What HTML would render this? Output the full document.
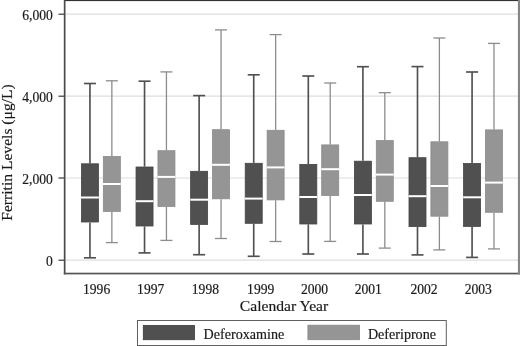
<!DOCTYPE html>
<html><head><meta charset="utf-8"><style>
html,body{margin:0;padding:0;background:#fff;}
body{width:520px;height:346px;overflow:hidden;}
svg{display:block;will-change:transform;}
.t,.ti,.tl{stroke:#1a1a1a;stroke-width:0.18px;}
.t{font-family:"Liberation Serif",serif;font-size:13.6px;fill:#1a1a1a;}
.ti{font-family:"Liberation Serif",serif;font-size:15.6px;fill:#1a1a1a;}
.tl{font-family:"Liberation Serif",serif;font-size:14.1px;fill:#1a1a1a;}
</style></head><body>
<svg width="520" height="346" viewBox="0 0 520 346">
<rect width="520" height="346" fill="#fff"/>
<line x1="65" y1="14.2" x2="518" y2="14.2" stroke="#dedede" stroke-width="1.2"/>
<line x1="58.5" y1="14.2" x2="64.5" y2="14.2" stroke="#3a3a3a" stroke-width="1.2"/>
<line x1="65" y1="96.2" x2="518" y2="96.2" stroke="#dedede" stroke-width="1.2"/>
<line x1="58.5" y1="96.2" x2="64.5" y2="96.2" stroke="#3a3a3a" stroke-width="1.2"/>
<line x1="65" y1="178.0" x2="518" y2="178.0" stroke="#dedede" stroke-width="1.2"/>
<line x1="58.5" y1="178.0" x2="64.5" y2="178.0" stroke="#3a3a3a" stroke-width="1.2"/>
<line x1="65" y1="260.2" x2="518" y2="260.2" stroke="#dedede" stroke-width="1.2"/>
<line x1="58.5" y1="260.2" x2="64.5" y2="260.2" stroke="#3a3a3a" stroke-width="1.2"/>
<line x1="89.95" y1="83.50" x2="89.95" y2="163.40" stroke="#505050" stroke-width="1.65"/>
<line x1="89.95" y1="222.40" x2="89.95" y2="257.80" stroke="#505050" stroke-width="1.65"/>
<line x1="83.95" y1="83.50" x2="95.95" y2="83.50" stroke="#505050" stroke-width="1.65"/>
<line x1="83.95" y1="257.80" x2="95.95" y2="257.80" stroke="#505050" stroke-width="1.65"/>
<rect x="81.45" y="163.80" width="17.00" height="58.20" fill="#505050" stroke="#444444" stroke-width="0.8"/>
<line x1="81.05" y1="197.50" x2="98.85" y2="197.50" stroke="#ffffff" stroke-width="2"/>
<line x1="111.85" y1="80.80" x2="111.85" y2="156.10" stroke="#8c8c8c" stroke-width="1.3"/>
<line x1="111.85" y1="211.80" x2="111.85" y2="242.60" stroke="#8c8c8c" stroke-width="1.3"/>
<line x1="105.85" y1="80.80" x2="117.85" y2="80.80" stroke="#8c8c8c" stroke-width="1.3"/>
<line x1="105.85" y1="242.60" x2="117.85" y2="242.60" stroke="#8c8c8c" stroke-width="1.3"/>
<rect x="103.35" y="156.50" width="17.00" height="54.90" fill="#959595" stroke="#8a8a8a" stroke-width="0.8"/>
<line x1="102.95" y1="184.00" x2="120.75" y2="184.00" stroke="#ffffff" stroke-width="2"/>
<line x1="144.54" y1="81.20" x2="144.54" y2="166.60" stroke="#505050" stroke-width="1.65"/>
<line x1="144.54" y1="226.40" x2="144.54" y2="252.90" stroke="#505050" stroke-width="1.65"/>
<line x1="138.54" y1="81.20" x2="150.54" y2="81.20" stroke="#505050" stroke-width="1.65"/>
<line x1="138.54" y1="252.90" x2="150.54" y2="252.90" stroke="#505050" stroke-width="1.65"/>
<rect x="136.04" y="167.00" width="17.00" height="59.00" fill="#505050" stroke="#444444" stroke-width="0.8"/>
<line x1="135.64" y1="201.20" x2="153.44" y2="201.20" stroke="#ffffff" stroke-width="2"/>
<line x1="166.44" y1="71.90" x2="166.44" y2="150.30" stroke="#8c8c8c" stroke-width="1.3"/>
<line x1="166.44" y1="206.80" x2="166.44" y2="240.40" stroke="#8c8c8c" stroke-width="1.3"/>
<line x1="160.44" y1="71.90" x2="172.44" y2="71.90" stroke="#8c8c8c" stroke-width="1.3"/>
<line x1="160.44" y1="240.40" x2="172.44" y2="240.40" stroke="#8c8c8c" stroke-width="1.3"/>
<rect x="157.94" y="150.70" width="17.00" height="55.70" fill="#959595" stroke="#8a8a8a" stroke-width="0.8"/>
<line x1="157.54" y1="176.90" x2="175.34" y2="176.90" stroke="#ffffff" stroke-width="2"/>
<line x1="199.13" y1="95.60" x2="199.13" y2="170.90" stroke="#505050" stroke-width="1.65"/>
<line x1="199.13" y1="224.80" x2="199.13" y2="254.70" stroke="#505050" stroke-width="1.65"/>
<line x1="193.13" y1="95.60" x2="205.13" y2="95.60" stroke="#505050" stroke-width="1.65"/>
<line x1="193.13" y1="254.70" x2="205.13" y2="254.70" stroke="#505050" stroke-width="1.65"/>
<rect x="190.63" y="171.30" width="17.00" height="53.10" fill="#505050" stroke="#444444" stroke-width="0.8"/>
<line x1="190.23" y1="199.70" x2="208.03" y2="199.70" stroke="#ffffff" stroke-width="2"/>
<line x1="221.03" y1="29.90" x2="221.03" y2="129.30" stroke="#8c8c8c" stroke-width="1.3"/>
<line x1="221.03" y1="199.20" x2="221.03" y2="238.50" stroke="#8c8c8c" stroke-width="1.3"/>
<line x1="215.03" y1="29.90" x2="227.03" y2="29.90" stroke="#8c8c8c" stroke-width="1.3"/>
<line x1="215.03" y1="238.50" x2="227.03" y2="238.50" stroke="#8c8c8c" stroke-width="1.3"/>
<rect x="212.53" y="129.70" width="17.00" height="69.10" fill="#959595" stroke="#8a8a8a" stroke-width="0.8"/>
<line x1="212.13" y1="164.80" x2="229.93" y2="164.80" stroke="#ffffff" stroke-width="2"/>
<line x1="253.72" y1="74.80" x2="253.72" y2="162.90" stroke="#505050" stroke-width="1.65"/>
<line x1="253.72" y1="223.70" x2="253.72" y2="256.30" stroke="#505050" stroke-width="1.65"/>
<line x1="247.72" y1="74.80" x2="259.72" y2="74.80" stroke="#505050" stroke-width="1.65"/>
<line x1="247.72" y1="256.30" x2="259.72" y2="256.30" stroke="#505050" stroke-width="1.65"/>
<rect x="245.22" y="163.30" width="17.00" height="60.00" fill="#505050" stroke="#444444" stroke-width="0.8"/>
<line x1="244.82" y1="198.60" x2="262.62" y2="198.60" stroke="#ffffff" stroke-width="2"/>
<line x1="275.62" y1="34.60" x2="275.62" y2="129.90" stroke="#8c8c8c" stroke-width="1.3"/>
<line x1="275.62" y1="200.30" x2="275.62" y2="241.50" stroke="#8c8c8c" stroke-width="1.3"/>
<line x1="269.62" y1="34.60" x2="281.62" y2="34.60" stroke="#8c8c8c" stroke-width="1.3"/>
<line x1="269.62" y1="241.50" x2="281.62" y2="241.50" stroke="#8c8c8c" stroke-width="1.3"/>
<rect x="267.12" y="130.30" width="17.00" height="69.60" fill="#959595" stroke="#8a8a8a" stroke-width="0.8"/>
<line x1="266.72" y1="167.40" x2="284.52" y2="167.40" stroke="#ffffff" stroke-width="2"/>
<line x1="308.31" y1="76.00" x2="308.31" y2="164.00" stroke="#505050" stroke-width="1.65"/>
<line x1="308.31" y1="224.40" x2="308.31" y2="254.00" stroke="#505050" stroke-width="1.65"/>
<line x1="302.31" y1="76.00" x2="314.31" y2="76.00" stroke="#505050" stroke-width="1.65"/>
<line x1="302.31" y1="254.00" x2="314.31" y2="254.00" stroke="#505050" stroke-width="1.65"/>
<rect x="299.81" y="164.40" width="17.00" height="59.60" fill="#505050" stroke="#444444" stroke-width="0.8"/>
<line x1="299.41" y1="197.00" x2="317.21" y2="197.00" stroke="#ffffff" stroke-width="2"/>
<line x1="330.21" y1="83.00" x2="330.21" y2="144.50" stroke="#8c8c8c" stroke-width="1.3"/>
<line x1="330.21" y1="195.90" x2="330.21" y2="241.40" stroke="#8c8c8c" stroke-width="1.3"/>
<line x1="324.21" y1="83.00" x2="336.21" y2="83.00" stroke="#8c8c8c" stroke-width="1.3"/>
<line x1="324.21" y1="241.40" x2="336.21" y2="241.40" stroke="#8c8c8c" stroke-width="1.3"/>
<rect x="321.71" y="144.90" width="17.00" height="50.60" fill="#959595" stroke="#8a8a8a" stroke-width="0.8"/>
<line x1="321.31" y1="169.20" x2="339.11" y2="169.20" stroke="#ffffff" stroke-width="2"/>
<line x1="362.90" y1="66.70" x2="362.90" y2="160.80" stroke="#505050" stroke-width="1.65"/>
<line x1="362.90" y1="224.40" x2="362.90" y2="254.00" stroke="#505050" stroke-width="1.65"/>
<line x1="356.90" y1="66.70" x2="368.90" y2="66.70" stroke="#505050" stroke-width="1.65"/>
<line x1="356.90" y1="254.00" x2="368.90" y2="254.00" stroke="#505050" stroke-width="1.65"/>
<rect x="354.40" y="161.20" width="17.00" height="62.80" fill="#505050" stroke="#444444" stroke-width="0.8"/>
<line x1="354.00" y1="195.00" x2="371.80" y2="195.00" stroke="#ffffff" stroke-width="2"/>
<line x1="384.80" y1="92.70" x2="384.80" y2="140.20" stroke="#8c8c8c" stroke-width="1.3"/>
<line x1="384.80" y1="201.70" x2="384.80" y2="248.10" stroke="#8c8c8c" stroke-width="1.3"/>
<line x1="378.80" y1="92.70" x2="390.80" y2="92.70" stroke="#8c8c8c" stroke-width="1.3"/>
<line x1="378.80" y1="248.10" x2="390.80" y2="248.10" stroke="#8c8c8c" stroke-width="1.3"/>
<rect x="376.30" y="140.60" width="17.00" height="60.70" fill="#959595" stroke="#8a8a8a" stroke-width="0.8"/>
<line x1="375.90" y1="174.60" x2="393.70" y2="174.60" stroke="#ffffff" stroke-width="2"/>
<line x1="417.49" y1="66.60" x2="417.49" y2="157.30" stroke="#505050" stroke-width="1.65"/>
<line x1="417.49" y1="227.00" x2="417.49" y2="254.90" stroke="#505050" stroke-width="1.65"/>
<line x1="411.49" y1="66.60" x2="423.49" y2="66.60" stroke="#505050" stroke-width="1.65"/>
<line x1="411.49" y1="254.90" x2="423.49" y2="254.90" stroke="#505050" stroke-width="1.65"/>
<rect x="408.99" y="157.70" width="17.00" height="68.90" fill="#505050" stroke="#444444" stroke-width="0.8"/>
<line x1="408.59" y1="196.20" x2="426.39" y2="196.20" stroke="#ffffff" stroke-width="2"/>
<line x1="439.39" y1="38.00" x2="439.39" y2="141.40" stroke="#8c8c8c" stroke-width="1.3"/>
<line x1="439.39" y1="216.60" x2="439.39" y2="249.90" stroke="#8c8c8c" stroke-width="1.3"/>
<line x1="433.39" y1="38.00" x2="445.39" y2="38.00" stroke="#8c8c8c" stroke-width="1.3"/>
<line x1="433.39" y1="249.90" x2="445.39" y2="249.90" stroke="#8c8c8c" stroke-width="1.3"/>
<rect x="430.89" y="141.80" width="17.00" height="74.40" fill="#959595" stroke="#8a8a8a" stroke-width="0.8"/>
<line x1="430.49" y1="186.00" x2="448.29" y2="186.00" stroke="#ffffff" stroke-width="2"/>
<line x1="472.08" y1="72.00" x2="472.08" y2="163.10" stroke="#505050" stroke-width="1.65"/>
<line x1="472.08" y1="226.80" x2="472.08" y2="257.40" stroke="#505050" stroke-width="1.65"/>
<line x1="466.08" y1="72.00" x2="478.08" y2="72.00" stroke="#505050" stroke-width="1.65"/>
<line x1="466.08" y1="257.40" x2="478.08" y2="257.40" stroke="#505050" stroke-width="1.65"/>
<rect x="463.58" y="163.50" width="17.00" height="62.90" fill="#505050" stroke="#444444" stroke-width="0.8"/>
<line x1="463.18" y1="197.30" x2="480.98" y2="197.30" stroke="#ffffff" stroke-width="2"/>
<line x1="493.98" y1="43.40" x2="493.98" y2="129.50" stroke="#8c8c8c" stroke-width="1.3"/>
<line x1="493.98" y1="212.70" x2="493.98" y2="248.90" stroke="#8c8c8c" stroke-width="1.3"/>
<line x1="487.98" y1="43.40" x2="499.98" y2="43.40" stroke="#8c8c8c" stroke-width="1.3"/>
<line x1="487.98" y1="248.90" x2="499.98" y2="248.90" stroke="#8c8c8c" stroke-width="1.3"/>
<rect x="485.48" y="129.90" width="17.00" height="82.40" fill="#959595" stroke="#8a8a8a" stroke-width="0.8"/>
<line x1="485.08" y1="182.60" x2="502.88" y2="182.60" stroke="#ffffff" stroke-width="2"/>
<rect x="64" y="0" width="456" height="1.1" fill="#333"/>
<rect x="63.8" y="0" width="1.7" height="274.4" fill="#4a4a4a"/>
<rect x="63.8" y="272.7" width="456.2" height="1.7" fill="#555"/>
<rect x="517.9" y="0" width="2.1" height="274.4" fill="#858585"/>
<text x="52.8" y="20.1" text-anchor="end" class="t">6,000</text>
<text x="52.8" y="102.2" text-anchor="end" class="t">4,000</text>
<text x="52.8" y="183.9" text-anchor="end" class="t">2,000</text>
<text x="52.8" y="265.8" text-anchor="end" class="t">0</text>
<text x="96.6" y="293.6" text-anchor="middle" class="t">1996</text>
<text x="150.7" y="293.6" text-anchor="middle" class="t">1997</text>
<text x="205.4" y="293.6" text-anchor="middle" class="t">1998</text>
<text x="260.7" y="293.6" text-anchor="middle" class="t">1999</text>
<text x="314.5" y="293.6" text-anchor="middle" class="t">2000</text>
<text x="368.3" y="293.6" text-anchor="middle" class="t">2001</text>
<text x="424.0" y="293.6" text-anchor="middle" class="t">2002</text>
<text x="478.3" y="293.6" text-anchor="middle" class="t">2003</text>
<text x="284" y="311.2" text-anchor="middle" class="ti">Calendar Year</text>
<text transform="translate(11.6,152.5) rotate(-90)" text-anchor="middle" class="ti">Ferritin Levels (&#956;g/L)</text>
<rect x="137.5" y="320.5" width="308.8" height="25" fill="none" stroke="#606060" stroke-width="1"/>
<rect x="143.3" y="325.4" width="51.2" height="14.3" fill="#505050" stroke="#3a3a3a" stroke-width="0.8"/>
<text x="203.6" y="339.4" class="tl">Deferoxamine</text>
<rect x="307.9" y="325.2" width="51.6" height="14.5" fill="#959595" stroke="#888" stroke-width="0.8"/>
<text x="367.9" y="339.4" class="tl">Deferiprone</text>
</svg>
</body></html>
